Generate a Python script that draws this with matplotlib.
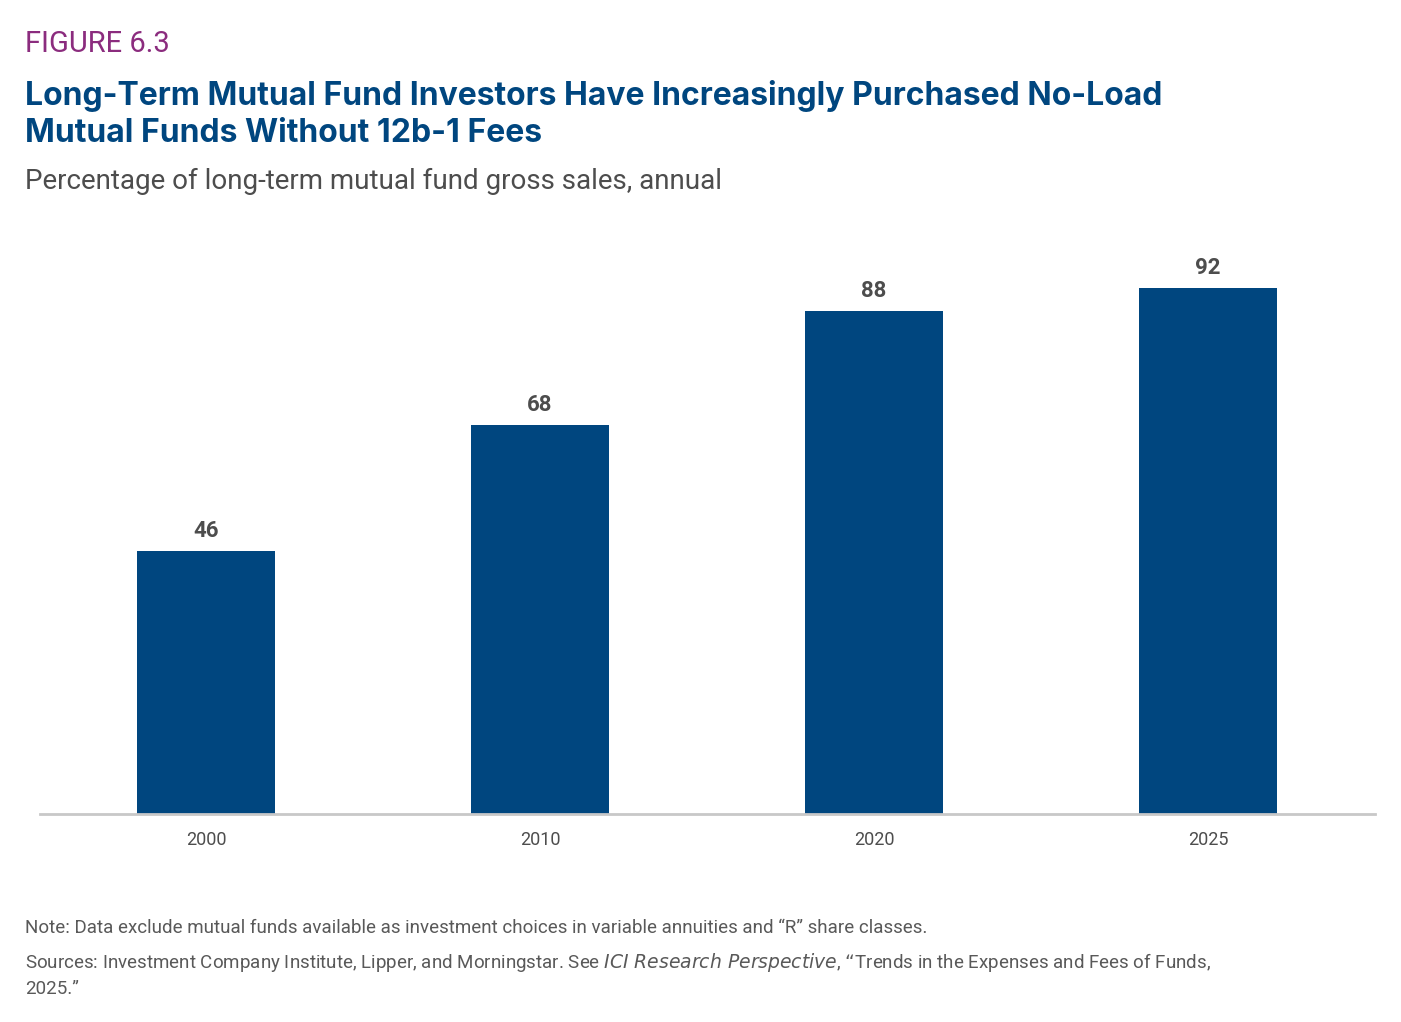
import matplotlib
matplotlib.use("Agg")
import matplotlib.pyplot as plt

years = ["2000", "2010", "2020", "2025"]
values = [46, 68, 88, 92]

W, H = 1401, 1022
fig = plt.figure(figsize=(W/100, H/100), dpi=100)
ax = fig.add_axes([40/W, 1-814/H, (1375-40)/W, (814-242)/H])
x = list(range(len(years)))
ax.bar(x, values, width=0.413, color="#00467F", zorder=2)
for xi, v in zip(x, values):
    ax.text(xi, v + 1.5, str(v), ha="center", va="bottom", fontsize=16, fontweight="bold",
            color="#4D4D4D", family="Roboto")
ax.set_xlim(-0.497, 3.5)
ax.set_ylim(0, 100)
ax.set_xticks(x)
ax.set_xticklabels(years, fontsize=13, color="#4D4D4D", family="Roboto")
ax.tick_params(axis="x", length=0, pad=12)
ax.set_yticks([])
for s in ["top", "left", "right"]:
    ax.spines[s].set_visible(False)
ax.spines["bottom"].set_color("#C8C8C8")
ax.spines["bottom"].set_linewidth(2)

fig.text(25/W, 1-44/H, "FIGURE 6.3", fontsize=21, color="#8B2C7E", family="Roboto", va="center")
fig.text(25/W, 1-114/H, "Long-Term Mutual Fund Investors Have Increasingly Purchased No-Load\nMutual Funds Without 12b-1 Fees",
         fontsize=23, fontweight="bold", color="#00467F", family="Inter", va="center", linespacing=1.25)
fig.text(25/W, 1-181/H, "Percentage of long-term mutual fund gross sales, annual", fontsize=20,
         color="#4D4D4D", family="Roboto", va="center")
fig.text(25/W, 1-928/H, "Note: Data exclude mutual funds available as investment choices in variable annuities and \u201cR\u201d share classes.",
         fontsize=13.5, color="#595959", family="Roboto", va="center")
fig.text(25/W, 1-962/H, "Sources: Investment Company Institute, Lipper, and Morningstar. See $\\it{ICI\\ Research\\ Perspective}$, \u201cTrends in the Expenses and Fees of Funds,",
         fontsize=13.5, color="#595959", family="Roboto", va="center")
fig.text(25/W, 1-989/H, "2025.\u201d", fontsize=13.5, color="#595959", family="Roboto", va="center")
fig.savefig("out.png", dpi=100)
